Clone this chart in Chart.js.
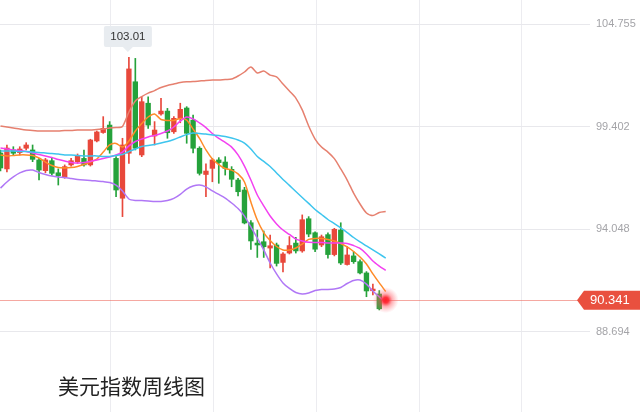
<!DOCTYPE html>
<html><head><meta charset="utf-8">
<script src="https://cdn.jsdelivr.net/npm/chart.js@4"></script>
<style>
html,body{margin:0;padding:0;background:#fff;}
#wrap{position:relative;width:640px;height:412px;overflow:hidden;}
#title{position:absolute;left:58px;top:372px;font-size:21px;font-family:"Noto Sans CJK SC","Noto Sans",sans-serif;color:#222;line-height:26px;white-space:nowrap;}
</style>
</head><body>
<div id="wrap"><canvas id="c" width="640" height="412"></canvas><div id="title">美元指数周线图</div></div>
<script>
const opens = [98.02,97.19,98.18,98.04,98.27,98.18,97.66,97.10,97.62,96.99,
96.78,97.40,97.57,97.74,97.40,98.65,99.09,99.48,97.74,95.66,
98.01,101.74,97.92,100.62,98.91,100.06,100.21,99.13,99.83,100.37,
99.74,98.27,96.90,97.22,97.66,97.55,97.17,96.61,96.09,94.38,
93.32,93.39,93.06,93.22,92.31,92.80,93.32,92.91,94.59,93.86,
93.22,93.76,92.72,94.00,92.20,92.65,92.35,91.76,90.83,90.66];
const highs = [98.18,98.44,98.35,98.35,98.56,98.44,97.74,97.74,97.74,97.19,
97.40,97.74,97.97,98.18,98.74,99.17,99.92,99.66,97.83,98.79,
103.01,102.96,100.96,100.96,99.66,100.88,100.35,99.92,100.62,100.44,
100.00,98.35,97.45,97.74,97.78,97.83,97.31,96.70,96.23,94.49,
94.00,93.95,93.74,93.32,92.83,93.66,93.62,94.79,94.70,93.91,
93.74,93.85,94.09,94.38,93.13,92.87,92.44,91.83,91.18,90.84];
const lows = [97.08,97.03,97.92,97.92,98.18,97.57,96.61,96.99,96.87,96.35,
96.70,97.34,97.48,97.34,97.34,98.60,99.05,98.01,95.74,94.70,
97.48,98.18,97.83,99.31,98.44,100.00,98.79,99.05,99.60,98.53,
98.02,96.87,95.74,96.52,96.44,96.87,96.26,95.78,94.32,92.99,
92.57,92.57,92.02,92.12,91.81,92.75,92.80,92.84,93.65,92.87,
93.13,92.53,92.65,92.20,92.17,92.26,91.71,90.52,90.61,89.83];
const closes = [97.24,98.28,98.01,98.23,98.44,97.69,97.13,97.66,96.96,96.84,
97.31,97.62,97.87,97.40,98.70,99.12,99.31,98.18,96.09,98.44,
102.41,98.27,100.70,99.48,99.22,100.21,99.08,99.83,100.30,99.05,
98.27,96.96,97.08,97.66,97.52,97.22,96.65,96.00,94.37,93.43,
93.22,93.13,93.18,92.26,92.75,93.19,92.91,94.54,93.79,93.00,
93.65,92.72,94.04,92.28,92.70,92.35,91.76,90.82,90.92,89.89];

const bollUpper = [99.43,99.38,99.33,99.27,99.22,99.20,99.17,99.17,99.17,99.17,
99.20,99.20,99.22,99.22,99.22,99.25,99.27,99.33,99.35,99.41,
100.16,100.74,100.97,101.15,101.28,101.44,101.55,101.62,101.70,101.74,
101.75,101.78,101.81,101.83,101.83,101.86,101.88,102.04,102.25,102.51,
102.20,102.30,102.09,101.99,101.62,101.26,100.89,100.27,99.43,98.75,
98.33,98.07,97.73,97.19,96.61,95.93,95.36,94.89,94.76,94.92,94.97];
const bollMid = [98.13,98.13,98.13,98.10,98.10,98.07,98.05,98.02,97.99,97.97,
97.92,97.92,97.89,97.87,97.87,97.87,97.84,97.84,97.89,97.94,
98.10,98.23,98.36,98.41,98.47,98.54,98.62,98.73,98.86,98.99,
99.07,99.04,99.01,98.96,98.94,98.88,98.80,98.70,98.54,98.23,
97.84,97.58,97.32,96.98,96.64,96.33,96.01,95.70,95.39,95.07,
94.81,94.55,94.34,94.11,93.87,93.61,93.38,93.17,92.96,92.75,92.54];
const bollLower = [96.19,96.51,96.77,96.98,97.11,97.13,97.00,96.90,96.82,96.77,
96.74,96.69,96.64,96.61,96.59,96.56,96.53,96.48,96.35,96.04,
95.62,95.54,95.54,95.52,95.49,95.49,95.54,95.65,95.86,96.14,
96.30,96.35,96.25,96.04,95.86,95.67,95.41,95.12,94.73,94.16,
93.58,92.96,92.28,91.71,91.24,90.95,90.74,90.66,90.71,90.84,
90.90,90.90,90.92,91.00,91.21,91.37,91.39,91.18,90.82,90.51,90.24];
const ma5 = [97.92,97.87,97.89,97.92,97.92,97.89,97.76,97.55,97.37,97.26,
97.24,97.26,97.32,97.42,97.55,97.71,98.07,98.44,98.52,98.33,
98.65,99.17,99.56,99.90,100.06,99.77,99.72,99.72,99.82,99.74,
99.27,98.78,98.18,97.71,97.42,97.21,97.13,96.93,96.51,95.46,
94.52,93.87,93.45,93.14,92.96,92.96,93.06,93.27,93.51,93.56,
93.56,93.51,93.43,93.30,93.12,92.88,92.59,92.23,91.71,91.24,90.79];
const ma10 = [98.28,98.23,98.18,98.15,98.10,98.02,97.94,97.87,97.79,97.68,
97.60,97.53,97.50,97.53,97.58,97.66,97.73,97.81,97.92,98.07,
98.39,98.62,98.75,98.86,98.94,99.04,99.17,99.38,99.69,99.90,
99.80,99.59,99.35,99.04,98.78,98.57,98.33,97.92,97.34,96.61,
95.83,95.26,94.73,94.32,94.00,93.77,93.53,93.43,93.36,93.35,
93.35,93.32,93.32,93.32,93.30,93.19,93.04,92.75,92.38,92.12,91.89];

const yTicks = [88.694, 94.048, 99.402, 104.755];
const gridWeeks = [17.2, 33.2, 49.2, 65.2, 81.2];
const lastPrice = 90.341;
const peakLabel = '103.01';

const weeks = opens.map((_, i) => i);
const UP = '#e8483b', DOWN = '#25a23b';
const candleColors = weeks.map(i => closes[i] >= opens[i] ? UP : DOWN);
const pts = arr => arr.map((v, i) => ({x: i, y: v}));

const overlay = {
  id: 'overlay',
  beforeDatasetsDraw(chart) {
    const {ctx, scales: {y}} = chart;
    const py = Math.round(y.getPixelForValue(lastPrice)) + 0.5;
    ctx.save();
    ctx.strokeStyle = 'rgba(238,110,98,0.6)';
    ctx.lineWidth = 1;
    ctx.beginPath(); ctx.moveTo(0, py); ctx.lineTo(578, py); ctx.stroke();
    ctx.restore();
  },
  afterDraw(chart) {
    const {ctx, scales: {x, y}} = chart;
    const py = y.getPixelForValue(lastPrice);
    ctx.save();
    const gx = x.getPixelForValue(weeks.length);
    const g = ctx.createRadialGradient(gx, py, 0, gx, py, 13);
    g.addColorStop(0, 'rgba(255,30,40,1)');
    g.addColorStop(0.22, 'rgba(255,40,50,0.95)');
    g.addColorStop(0.5, 'rgba(255,80,90,0.45)');
    g.addColorStop(1, 'rgba(255,120,130,0)');
    ctx.fillStyle = g;
    ctx.beginPath(); ctx.arc(gx, py, 13, 0, Math.PI * 2); ctx.fill();
    ctx.fillStyle = '#e9503f';
    ctx.beginPath();
    ctx.moveTo(577, py);
    ctx.lineTo(584, py - 9.5);
    ctx.lineTo(640, py - 9.5);
    ctx.lineTo(640, py + 9.5);
    ctx.lineTo(584, py + 9.5);
    ctx.closePath(); ctx.fill();
    ctx.fillStyle = '#fff';
    ctx.font = '13px "Liberation Sans", Arial, sans-serif';
    ctx.textBaseline = 'middle';
    ctx.textAlign = 'left';
    ctx.fillText(lastPrice.toFixed(3), 590, py + 0.5);
    let pi = 0;
    highs.forEach((h, i) => { if (h > highs[pi]) pi = i; });
    const px = x.getPixelForValue(pi) - 1;
    const hy = y.getPixelForValue(highs[pi]);
    const bw = 48, bh = 21, bb = hy - 10.5;
    ctx.fillStyle = '#e8ecf0';
    ctx.beginPath();
    if (ctx.roundRect) ctx.roundRect(px - bw / 2, bb - bh, bw, bh, 2); else ctx.rect(px - bw / 2, bb - bh, bw, bh);
    ctx.fill();
    ctx.beginPath();
    ctx.moveTo(px - 5, bb); ctx.lineTo(px + 5, bb); ctx.lineTo(px, bb + 5); ctx.closePath(); ctx.fill();
    ctx.fillStyle = '#333';
    ctx.font = '11.5px "Liberation Sans", Arial, sans-serif';
    ctx.textAlign = 'center';
    ctx.fillText(peakLabel, px, bb - bh / 2 + 0.5);
    ctx.restore();
  }
};

const lineDs = (arr, color, order) => ({
  type: 'line', data: pts(arr), borderColor: color, borderWidth: 1.5,
  pointRadius: 0, tension: 0.25, fill: false, order: order
});

new Chart(document.getElementById('c'), {
  type: 'bar',
  data: {
    datasets: [
      lineDs(bollUpper, '#e6806f', 1),
      lineDs(bollMid, '#3ec5ee', 1),
      lineDs(bollLower, '#b077f6', 1),
      lineDs(ma10, '#f341f0', 1),
      lineDs(ma5, '#ff8b28', 1),
      { type: 'bar', data: weeks.map(i => ({x: i, y: [opens[i], closes[i]]})),
        backgroundColor: candleColors, borderWidth: 0, barThickness: 4.7,
        minBarLength: 1, grouped: false, order: 2 },
      { type: 'bar', data: weeks.map(i => ({x: i, y: [lows[i], highs[i]]})),
        backgroundColor: candleColors, borderWidth: 0, barThickness: 1,
        grouped: false, order: 3 }
    ]
  },
  options: {
    responsive: false, animation: false, devicePixelRatio: 1,
    layout: { padding: 0 },
    plugins: { legend: { display: false }, tooltip: { enabled: false } },
    scales: {
      x: {
        type: 'linear', min: -0.078, max: 91.82, offset: false,
        afterBuildTicks: s => { s.ticks = gridWeeks.map(v => ({value: v})); },
        ticks: { display: false },
        grid: { color: '#ececf0', drawTicks: false, offset: false },
        border: { display: false },
        afterFit: s => { s.height = 0; s.paddingLeft = 0; s.paddingRight = 0; }
      },
      y: {
        type: 'linear', position: 'right', min: 84.502, max: 106.008,
        afterBuildTicks: s => { s.ticks = yTicks.map(v => ({value: v})); },
        ticks: { color: '#a4a4a8', padding: 6, font: { size: 11, family: '"Liberation Sans", Arial, sans-serif' },
                 callback: v => Number(v).toFixed(3) },
        grid: { color: '#e8e8ec', drawTicks: false, offset: false },
        border: { display: false },
        afterFit: s => { s.width = 50; s.paddingTop = 0; s.paddingBottom = 0; }
      }
    }
  },
  plugins: [overlay]
});
</script>
</body></html>
